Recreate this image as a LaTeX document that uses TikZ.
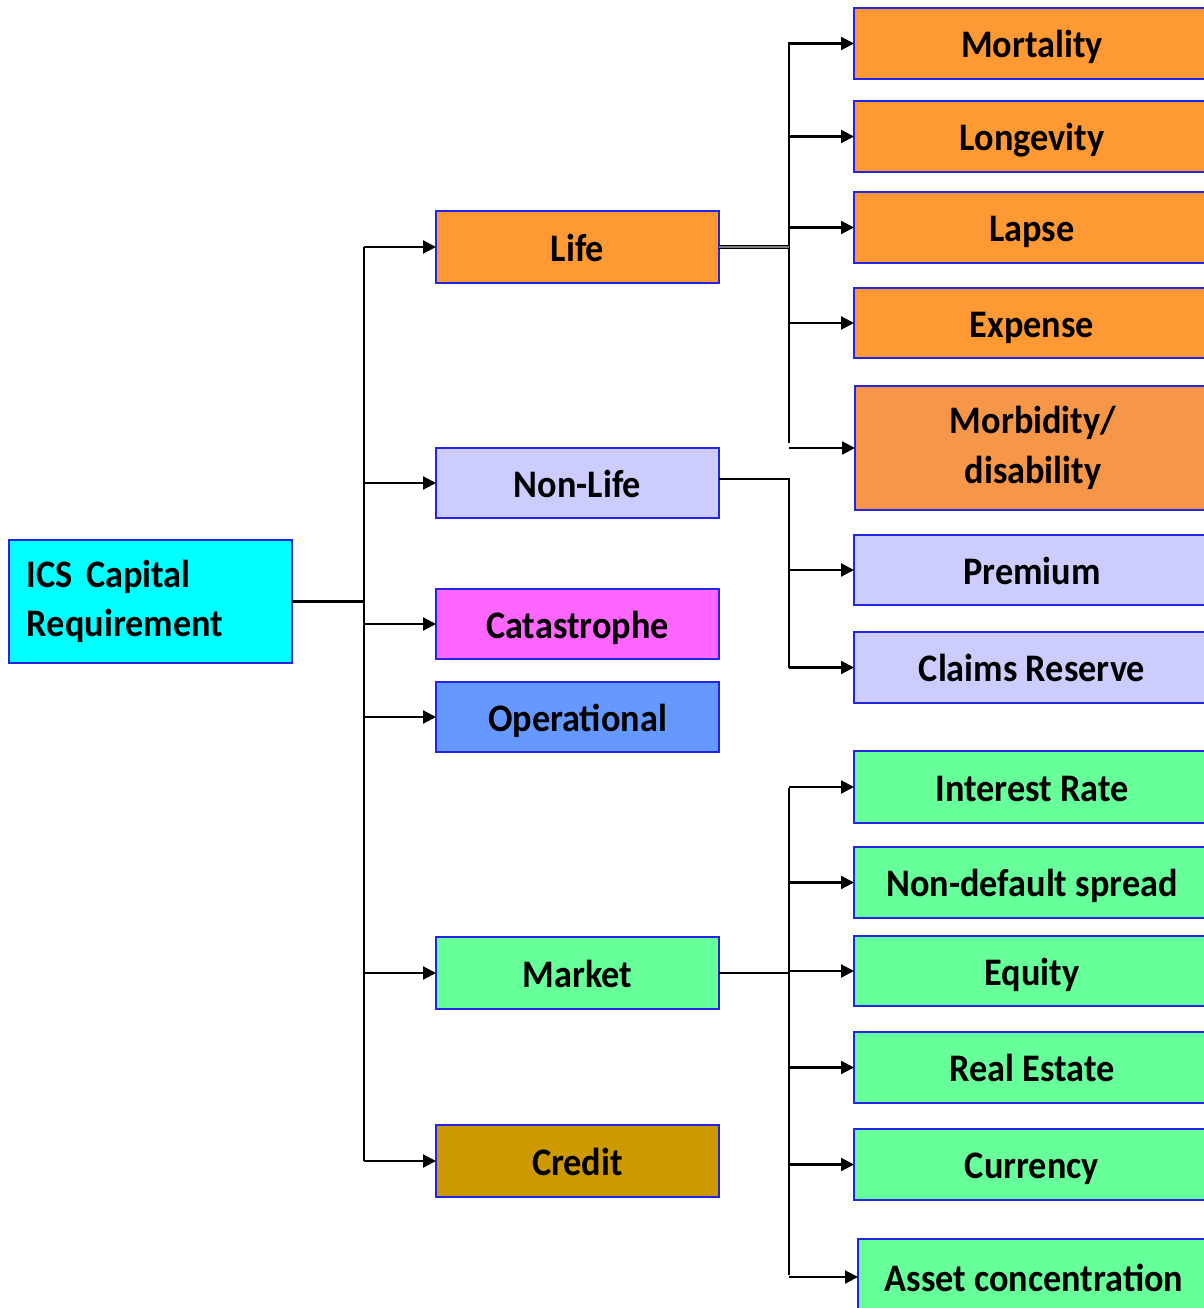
\documentclass[tikz,border=0pt]{standalone}
\usepackage{fontspec}
\setmainfont{Carlito}[FakeStretch=0.93]
\usetikzlibrary{arrows.meta}
\definecolor{edgeblue}{RGB}{36,36,228}
\definecolor{cics}{RGB}{0,255,255}
\definecolor{clife}{RGB}{255,153,51}
\definecolor{cmorb}{RGB}{245,150,72}
\definecolor{cnonlife}{RGB}{204,204,255}
\definecolor{ccat}{RGB}{255,102,255}
\definecolor{coper}{RGB}{102,153,255}
\definecolor{cmarket}{RGB}{102,255,153}
\definecolor{ccredit}{RGB}{204,153,0}
\begin{document}
\begin{tikzpicture}[x=1pt,y=-1pt,
  box/.style={draw=edgeblue, line width=2pt, anchor=north west,
    inner sep=0pt, outer sep=0pt, text=black, align=center,
    font=\fontsize{39}{50}\selectfont\bfseries,
    minimum width=283pt, minimum height=71pt},
  oneline/.style={text height=38pt, text depth=10pt},
  leaf/.style={box, minimum width=356pt},
  wire/.style={line width=2.2pt, black},
  conn/.style={wire, -{Triangle[length=13pt,width=13pt]}}]
\useasboundingbox (0,0) rectangle (1203,1308);

% root
\node[box, fill=cics, minimum width=283pt, minimum height=123pt,
  text width=247pt, align=left, font=\fontsize{39}{49}\selectfont\bfseries] (ics) at (9,540)
  {ICS Capital\\Requirement};

% first level
\node[box, oneline, fill=clife, minimum height=72pt] (life) at (436,211) {Life};
\node[box, oneline, fill=cnonlife, minimum height=70pt] (nonlife) at (436,448) {Non-Life};
\node[box, oneline, fill=ccat, minimum height=70pt] (cat) at (436,589) {Catastrophe};
\node[box, oneline, fill=coper, minimum height=70pt] (oper) at (436,682) {Operational};
\node[box, oneline, fill=cmarket, minimum height=72pt] (market) at (436,937) {Market};
\node[box, oneline, fill=ccredit, minimum height=72pt] (credit) at (436,1125) {Credit};

% life sub-modules
\node[leaf, oneline, fill=clife] (mort) at (854,8) {Mortality};
\node[leaf, oneline, fill=clife] (longev) at (854,101) {Longevity};
\node[leaf, oneline, fill=clife] (lapse) at (854,192) {Lapse};
\node[leaf, oneline, fill=clife, minimum height=70pt] (expense) at (854,288) {Expense};
\node[leaf, fill=cmorb, minimum height=124pt] (morb) at (855,386) {Morbidity/\\disability};

% non-life sub-modules
\node[leaf, oneline, fill=cnonlife, minimum height=70pt] (premium) at (854,535) {Premium};
\node[leaf, oneline, fill=cnonlife] (claims) at (854,632) {Claims Reserve};

% market sub-modules
\node[leaf, oneline, fill=cmarket, minimum height=72pt] (interest) at (854,751) {Interest Rate};
\node[leaf, oneline, fill=cmarket] (spread) at (854,847) {Non-default spread};
\node[leaf, oneline, fill=cmarket, minimum height=70pt] (equity) at (854,936) {Equity};
\node[leaf, oneline, fill=cmarket] (realest) at (854,1032) {Real Estate};
\node[leaf, oneline, fill=cmarket] (currency) at (854,1129) {Currency};
\node[leaf, oneline, fill=cmarket, minimum width=352pt, minimum height=76pt] (asset) at (858,1239) {Asset concentration};

% main trunk
\coordinate (rootTop) at (364,247);
\coordinate (rootBot) at (364,1161);
\draw[wire] (rootTop) -- (rootBot);
\draw[wire] (ics.east) -- (ics.east -| rootTop);
\foreach \n in {life,nonlife,cat,oper,market,credit}
  \draw[conn] (\n.west -| rootTop) -- (\n.west);

% life branch
\coordinate (lifeTop) at (789,42);
\coordinate (lifeBot) at (789,443);
\draw[wire] (lifeTop) -- (lifeBot);
\draw[wire, double=gray, double distance=1.2pt, line width=1.4pt] (life.east) -- (life.east -| lifeTop);
\foreach \n in {mort,longev,lapse,expense,morb}
  \draw[conn] (\n.west -| lifeTop) -- (\n.west);

% non-life branch
\coordinate (nlX) at (789,479);
\draw[wire] (nonlife.east |- nlX) -- (nlX) -- (claims.west -| nlX);
\foreach \n in {premium,claims}
  \draw[conn] (\n.west -| nlX) -- (\n.west);

% market branch
\coordinate (mkTop) at (789,788);
\coordinate (mkBot) at (789,1275);
\draw[wire] (mkTop) -- (mkBot);
\draw[wire] (market.east) -- (market.east -| mkTop);
\foreach \n in {interest,spread,equity,realest,currency,asset}
  \draw[conn] (\n.west -| mkTop) -- (\n.west);
\end{tikzpicture}
\end{document}
